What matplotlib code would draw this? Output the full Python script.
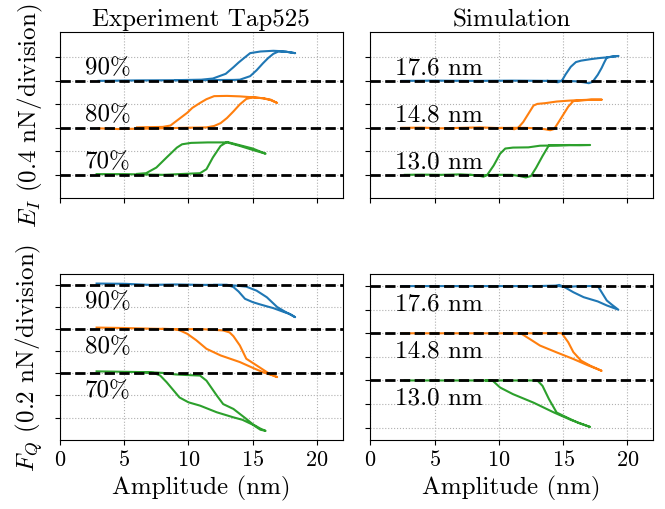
import numpy as np
import matplotlib
matplotlib.use("Agg")
import matplotlib.pyplot as plt

plt.rcParams['font.family'] = 'serif'
plt.rcParams['font.serif'] = ['cmr10']
plt.rcParams['mathtext.fontset'] = 'cm'
plt.rcParams['axes.formatter.use_mathtext'] = True

colors = ['tab:blue', 'tab:orange', 'tab:green']
offsets = [4, 2, 0]          # baseline of each curve, in divisions
exp_labels = ['90%', '80%', '70%']
sim_labels = ['17.6 nm', '14.8 nm', '13.0 nm']

# ---- E_I, experiment (x in nm, y in divisions above baseline) ----
ei_exp_90_x = [3.0, 6, 10, 13.5, 14.0, 14.8, 15.3, 15.8, 16.2, 16.6, 17.0, 17.6, 18.3,
               17.6, 17.0, 16.6, 15.6, 14.8, 14.3, 13.9, 13.5, 12.9, 11.9, 11.0, 9]
ei_exp_90_y = [0.0, 0.02, 0.03, 0.04, 0.05, 0.2, 0.45, 0.75, 0.97, 1.15, 1.25, 1.24, 1.18,
               1.24, 1.27, 1.28, 1.25, 1.18, 0.96, 0.78, 0.58, 0.3, 0.1, 0.05, 0.03]
ei_exp_80_x = [3.0, 4.5, 7, 9.5, 11.4, 12.0, 12.5, 13.0, 13.5, 14.0, 14.5, 15.0, 15.8, 16.4, 16.9,
               16.4, 15.8, 15.0, 14.0, 13.0, 12.0, 11.4, 10.9, 10.3, 9.9, 9.2, 8.6, 8.0, 6]
ei_exp_80_y = [-0.02, -0.05, -0.03, 0.0, 0.02, 0.08, 0.2, 0.42, 0.7, 1.0, 1.23, 1.3, 1.26, 1.18, 1.06,
               1.2, 1.26, 1.3, 1.34, 1.36, 1.35, 1.22, 1.06, 0.85, 0.64, 0.35, 0.1, 0.04, 0.02]
ei_exp_70_x = [2.85, 5, 8, 10.9, 11.4, 11.9, 12.5, 13.0, 13.5, 14.0, 15.0, 16.0,
               15.0, 14.0, 13.0, 11.5, 10.2, 9.5, 9.1, 8.3, 7.5, 6.7, 6.0]
ei_exp_70_y = [0.03, 0.03, 0.0, 0.07, 0.24, 0.74, 1.23, 1.4, 1.33, 1.26, 1.12, 0.9,
               1.06, 1.23, 1.38, 1.38, 1.36, 1.3, 1.16, 0.74, 0.31, 0.07, 0.04]

# ---- E_I, simulation ----
ei_sim_176_x = [2.42, 5, 8, 11, 14, 15, 16, 16.6, 17.0, 17.3, 17.7, 18.0, 18.2, 18.4, 18.8, 19.3,
                18.8, 18.4, 17.8, 17.1, 16.4, 16.0, 15.6, 15.2, 14.9, 14.6, 14.3, 13.8]
ei_sim_176_y = [0.0, 0.01, 0.0, 0.01, 0.0, 0.0, -0.02, -0.06, -0.1, -0.04, 0.26, 0.55, 0.78, 0.99, 1.03, 1.06,
                1.03, 1.0, 0.97, 0.92, 0.86, 0.8, 0.6, 0.28, 0.0, -0.06, -0.04, 0.0]
ei_sim_148_x = [2.42, 4, 5.5, 7, 8.5, 10, 11, 12, 13, 13.6, 14.0, 14.3, 14.6, 15.0, 15.4, 15.8, 16.5, 17.2, 18.0,
                17.2, 16.3, 15.5, 14.5, 13.6, 13.0, 12.7, 12.3, 11.9, 11.5, 11.2, 10.8, 10.2]
ei_sim_148_y = [0.0, 0.01, -0.02, 0.0, 0.02, -0.01, 0.0, 0.0, -0.02, -0.06, -0.1, -0.05, 0.2, 0.55, 0.9, 1.14, 1.17, 1.2, 1.2,
                1.2, 1.18, 1.16, 1.12, 1.05, 1.02, 0.95, 0.6, 0.25, 0.0, -0.06, -0.02, 0.0]
ei_sim_130_x = [2.68, 4, 5.5, 7, 8.5, 10, 11, 11.6, 12.1, 12.5, 12.9, 13.4, 13.9, 14.6, 15.5, 16.3, 17.1,
                16.3, 15.3, 14.3, 13.2, 12.3, 11.1, 10.5, 10.1, 9.6, 9.1, 8.8, 8.4, 7.8]
ei_sim_130_y = [0.0, 0.01, 0.0, 0.02, -0.02, 0.0, 0.0, -0.05, -0.11, -0.05, 0.3, 0.8, 1.26, 1.26, 1.27, 1.26, 1.27,
                1.27, 1.26, 1.25, 1.24, 1.17, 1.16, 1.12, 0.9, 0.4, 0.0, -0.08, -0.03, 0.0]

# ---- F_Q, experiment ----
fq_exp_90_x = [2.85, 5, 7, 9, 11, 13, 14.0, 14.5, 15.3, 16.1, 16.9, 17.6, 18.0, 18.3,
               17.8, 17.4, 16.6, 16.1, 15.5, 15.0, 14.4, 13.9, 13.5, 13.0, 12]
fq_exp_90_y = [0.06, 0.05, 0.0, 0.02, 0.0, 0.0, -0.05, -0.08, -0.26, -0.56, -1.0, -1.24, -1.35, -1.46,
               -1.3, -1.22, -1.05, -0.97, -0.87, -0.78, -0.63, -0.3, -0.1, 0.0, 0.0]
fq_exp_80_x = [2.85, 5, 7, 9, 11, 12.7, 13.2, 13.5, 14.0, 14.5, 15.3, 16.3, 16.9,
               16.6, 15.8, 15.0, 14.0, 12.5, 11.4, 10.6, 9.9, 9.3, 8.8, 8]
fq_exp_80_y = [0.07, 0.05, 0.02, 0.0, 0.0, -0.06, -0.15, -0.32, -0.74, -1.34, -1.64, -2.02, -2.17,
               -2.1, -1.95, -1.75, -1.49, -1.19, -0.89, -0.5, -0.21, -0.05, 0.0, 0.01]
fq_exp_70_x = [2.85, 5, 7, 8, 9, 10, 10.9, 11.4, 12.2, 12.7, 13.5, 14.5, 15.0, 15.6, 16.0,
               15.6, 15.0, 14.2, 13.5, 12.2, 10.9, 10.0, 9.3, 8.3, 7.8, 7.3, 6]
fq_exp_70_y = [0.09, 0.07, 0.05, 0.02, -0.05, -0.08, -0.1, -0.33, -1.0, -1.39, -1.61, -2.06, -2.3, -2.5, -2.6,
               -2.55, -2.32, -2.1, -1.99, -1.76, -1.46, -1.31, -1.09, -0.4, -0.1, 0.02, 0.05]

# ---- F_Q, simulation ----
fq_sim_176_x = [2.42, 6, 10, 13, 14.4, 14.7, 15.1, 16, 17, 17.7, 18.0, 18.4, 18.8, 19.3,
                18.4, 17.7, 16.6, 15.8, 15.1, 14.7, 14.0]
fq_sim_176_y = [0.0, 0.0, 0.0, 0.0, 0.02, 0.05, -0.04, -0.01, 0.0, 0.0, -0.26, -0.61, -0.79, -1.0,
                -0.82, -0.65, -0.47, -0.26, -0.04, 0.0, 0.0]
fq_sim_148_x = [2.42, 6, 9, 11.7, 13, 14.5, 14.9, 15.4, 15.8, 16.4, 17.1, 18.0,
                16.9, 15.8, 14.5, 13.2, 12.4, 11.7, 11.0]
fq_sim_148_y = [0.0, 0.0, 0.0, 0.0, 0.0, 0.01, 0.0, -0.38, -0.8, -1.16, -1.37, -1.59,
                -1.35, -1.09, -0.81, -0.52, -0.24, 0.0, 0.0]
fq_sim_130_x = [2.68, 6, 9.5, 11, 13.0, 13.4, 13.9, 14.5, 15.3, 16.2, 17.1,
                15.6, 14.3, 12.7, 11.1, 10.1, 9.5, 9.0]
fq_sim_130_y = [0.0, 0.0, 0.0, 0.0, 0.0, -0.23, -0.79, -1.36, -1.57, -1.8, -1.97,
                -1.67, -1.36, -0.94, -0.58, -0.3, 0.0, 0.0]

panels = [
    [(ei_exp_90_x, ei_exp_90_y), (ei_exp_80_x, ei_exp_80_y), (ei_exp_70_x, ei_exp_70_y)],
    [(ei_sim_176_x, ei_sim_176_y), (ei_sim_148_x, ei_sim_148_y), (ei_sim_130_x, ei_sim_130_y)],
    [(fq_exp_90_x, fq_exp_90_y), (fq_exp_80_x, fq_exp_80_y), (fq_exp_70_x, fq_exp_70_y)],
    [(fq_sim_176_x, fq_sim_176_y), (fq_sim_148_x, fq_sim_148_y), (fq_sim_130_x, fq_sim_130_y)],
]
ylims = [(-0.98, 6.08), (-0.98, 6.08), (-3.0, 4.5), (-2.51, 4.52)]
yticks = [range(0, 6), range(0, 6), range(-2, 5), range(-2, 5)]

fig, axes = plt.subplots(2, 2, figsize=(6.65, 5.1), dpi=100)
fig.subplots_adjust(left=0.0902, right=0.982, top=0.9353, bottom=0.1359,
                    wspace=0.098, hspace=0.458)

for k, ax in enumerate(axes.flat):
    row, col = divmod(k, 2)
    labels = exp_labels if col == 0 else sim_labels
    for i, (x, y) in enumerate(panels[k]):
        off = offsets[i]
        ax.axhline(off, color='k', ls='--', lw=2, zorder=3)
        ax.plot(x, np.array(y) + off, color=colors[i], lw=1.5, zorder=2)
        if row == 0:
            ax.text(1.95, off + 0.1, labels[i], fontsize=18, va='bottom', ha='left')
        else:
            ax.text(1.95, off - 0.25, labels[i], fontsize=18, va='top', ha='left')
    ax.set_xlim(0, 22)
    ax.set_ylim(*ylims[k])
    ax.set_xticks([0, 5, 10, 15, 20])
    ax.set_yticks(list(yticks[k]))
    ax.set_yticklabels([])
    ax.grid(True, ls=':', color='#b0b0b0', lw=0.8)
    ax.tick_params(labelsize=16)
    if row == 0:
        ax.set_xticklabels([])
    else:
        ax.set_xlabel('Amplitude (nm)', fontsize=18)

axes[0, 0].set_title('Experiment Tap525', fontsize=18, pad=5)
axes[0, 1].set_title('Simulation', fontsize=18, pad=5)
axes[0, 0].set_ylabel('$E_I$ (0.4 nN/division)', fontsize=18)
axes[1, 0].set_ylabel('$F_Q$ (0.2 nN/division)', fontsize=18)

fig.savefig('out.png', dpi=100)
